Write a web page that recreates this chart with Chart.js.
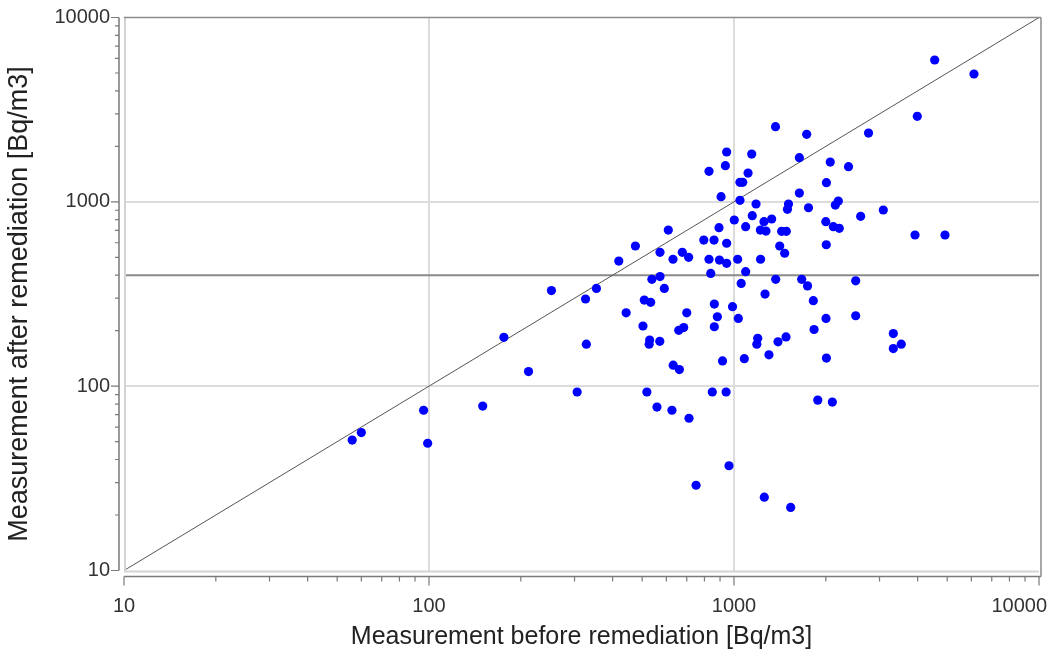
<!DOCTYPE html>
<html>
<head>
<meta charset="utf-8">
<script src="https://cdn.jsdelivr.net/npm/chart.js@4"></script>
<style>
  html, body { margin: 0; padding: 0; background: #ffffff; }
  #wrap { width: 1051px; height: 655px; position: relative; }
</style>
</head>
<body>
<div id="wrap"><canvas id="c" width="1051" height="655"></canvas></div>
<script>
// Measurement before remediation [Bq/m3]
const before = [56, 60, 96, 99, 150, 176, 212, 252, 306, 326, 328, 354, 419, 443, 475, 503, 508, 533, 529, 527,
  538, 572, 572, 571, 591, 609, 631, 632, 662, 659, 684, 677, 710, 700, 712, 751, 518, 559, 626, 796,
  828, 828, 839, 860, 862, 882, 862, 849, 893, 896, 907, 917, 946, 937, 946, 946, 942, 963, 989, 1002,
  1028, 1033, 1046, 1068, 1046, 1056, 1081, 1092, 1092, 1112, 1143, 1148, 1181, 1196, 1188, 1220, 1222, 1254, 1273, 1264,
  1257, 1302, 1329, 1368, 1370, 1394, 1412, 1466, 1433, 1484, 1481, 1509, 1497, 1534, 1638, 1638, 1667, 1731, 1742, 1755,
  1820, 1830, 1882, 2003, 2000, 2007, 2009, 2009, 2068, 2101, 2117, 2214, 2198, 2149, 2374, 2506, 2506, 2602, 2761, 3087,
  3329, 3329, 3535, 3922, 4918, 3990, 4550, 6121];
// Measurement after remediation [Bq/m3]
const after = [51, 56, 74, 49, 78, 184, 120, 330, 93, 297, 169, 339, 477, 250, 576, 212, 293, 285, 178, 169,
  380, 393, 532, 175, 339, 703, 488, 130, 123, 201, 208, 532, 500, 250, 67, 29, 93, 77, 74, 620,
  1464, 488, 409, 620, 279, 238, 210, 93, 724, 483, 1066, 137, 1863, 1570, 596, 464, 93, 37, 270, 797,
  488, 233, 1276, 1276, 1019, 361, 141, 733, 418, 1433, 1817, 841, 973, 182, 169, 703, 488, 780, 694, 316,
  25, 148, 807, 2556, 380, 174, 576, 526, 692, 692, 185, 973, 911, 22, 1735, 1116, 380, 2324, 350, 929,
  291, 203, 84, 233, 780, 585, 142, 1270, 1644, 82, 733, 718, 1010, 960, 1551, 373, 241, 834, 2362, 903,
  193, 160, 169, 661, 661, 2910, 5882, 4936];

const axisRange = [10, 10000];
const tickLabels = [10, 100, 1000, 10000];
const actionLevel = 400;
const xTitle = 'Measurement before remediation [Bq/m3]';
const yTitle = 'Measurement after remediation [Bq/m3]';

const points = before.map((v, i) => ({ x: v, y: after[i] }));
const FONT = '"Liberation Sans", Arial, sans-serif';
const TICK_COLOR = '#333333';

function majorTicks(scale) {
  scale.ticks = tickLabels.map(v => ({ value: v }));
}
function gridColor(ctx) {
  const v = ctx.tick && ctx.tick.value;
  return (v === 100 || v === 1000) ? '#dcdcdc' : 'rgba(0,0,0,0)';
}
function noPad(s) {
  s.paddingLeft = 0; s.paddingRight = 0; s.paddingTop = 0; s.paddingBottom = 0;
}

const framePlugin = {
  id: 'frame',
  afterDraw(chart) {
    const { ctx, chartArea: a, scales: { x, y } } = chart;
    ctx.save();
    // frame (bevel-like)
    ctx.lineWidth = 2;
    ctx.strokeStyle = '#d4d4d4';
    ctx.beginPath();
    ctx.moveTo(a.left + 1, a.top); ctx.lineTo(a.left + 1, a.bottom + 1);
    ctx.moveTo(a.left, a.bottom + 1); ctx.lineTo(a.right, a.bottom + 1);
    ctx.stroke();
    ctx.strokeStyle = '#8c8c8c';
    ctx.lineWidth = 1.5;
    ctx.beginPath();
    ctx.moveTo(a.left, a.top); ctx.lineTo(a.right + 2, a.top);
    ctx.moveTo(a.right + 2, a.top); ctx.lineTo(a.right + 2, a.bottom + 6);
    ctx.stroke();
    // axes lines + ticks
    ctx.strokeStyle = '#7a7a7a';
    ctx.lineWidth = 1.5;
    const axY = a.bottom + 6;
    const axX = a.left - 5;
    ctx.beginPath();
    ctx.moveTo(a.left, axY); ctx.lineTo(a.right + 2, axY);
    ctx.moveTo(axX, a.top); ctx.lineTo(axX, a.bottom);
    ctx.stroke();
    ctx.lineWidth = 1.2;
    ctx.beginPath();
    for (let d = 10; d <= 10000; d *= 10) {
      for (let m = 1; m <= 9; m++) {
        const v = d * m;
        if (v > 10000) break;
        const major = m === 1;
        const px = x.getPixelForValue(v);
        ctx.moveTo(px, axY); ctx.lineTo(px, axY + (major ? 9 : 5));
        const py = y.getPixelForValue(v);
        ctx.moveTo(axX, py); ctx.lineTo(axX - (major ? 8 : 4), py);
      }
    }
    ctx.stroke();

    // last x tick label: kept inside the canvas, right-aligned like the reference
    const last = tickLabels[tickLabels.length - 1];
    ctx.fillStyle = TICK_COLOR;
    ctx.font = '20px ' + FONT;
    ctx.textAlign = 'right';
    ctx.textBaseline = 'middle';
    ctx.fillText(String(last), x.getPixelForValue(last) + 8, 606);

    // axis titles
    ctx.fillStyle = '#222222';
    ctx.textAlign = 'center';
    ctx.textBaseline = 'middle';
    ctx.font = '25px ' + FONT;
    ctx.fillText(xTitle, (a.left + a.right) / 2, 637);

    ctx.font = '27px ' + FONT;
    ctx.save();
    ctx.translate(20, (a.top + a.bottom) / 2 + 10);
    ctx.rotate(-Math.PI / 2);
    ctx.fillText(yTitle, 0, 0);
    ctx.restore();

    ctx.restore();
  }
};

new Chart(document.getElementById('c'), {
  type: 'scatter',
  data: {
    datasets: [
      {
        label: 'Measurements',
        data: points,
        backgroundColor: '#0000ff',
        borderWidth: 0,
        pointRadius: 4.6,
        pointHoverRadius: 4.6
      },
      {
        type: 'line',
        label: 'y = x',
        data: [{ x: axisRange[0], y: axisRange[0] }, { x: axisRange[1], y: axisRange[1] }],
        borderColor: '#555555',
        borderWidth: 1,
        pointRadius: 0,
        fill: false
      },
      {
        type: 'line',
        label: 'Reference level',
        data: [{ x: axisRange[0], y: actionLevel }, { x: axisRange[1], y: actionLevel }],
        borderColor: '#8a8a8a',
        borderWidth: 2,
        pointRadius: 0,
        fill: false
      }
    ]
  },
  options: {
    responsive: false,
    animation: false,
    devicePixelRatio: 1,
    layout: { padding: { left: 0, top: 17.5, right: 12, bottom: 0 } },
    plugins: { legend: { display: false }, tooltip: { enabled: false } },
    scales: {
      x: {
        type: 'logarithmic',
        min: axisRange[0], max: axisRange[1],
        afterBuildTicks: majorTicks,
        afterFit(s) { s.height = 84.5; noPad(s); },
        border: { display: false },
        grid: { color: gridColor, lineWidth: 2, drawTicks: false },
        ticks: {
          autoSkip: false, maxRotation: 0, padding: 24,
          color: (c) => (c.tick && c.tick.value === tickLabels[tickLabels.length - 1]) ? 'rgba(0,0,0,0)' : TICK_COLOR,
          font: { family: FONT, size: 20 },
          callback: v => String(v)
        },
        title: { display: false, text: xTitle }
      },
      y: {
        type: 'logarithmic',
        min: axisRange[0], max: axisRange[1],
        afterBuildTicks: majorTicks,
        afterFit(s) { s.width = 124; noPad(s); },
        border: { display: false },
        grid: { color: gridColor, lineWidth: 2, drawTicks: false },
        ticks: {
          autoSkip: false, padding: 14,
          color: TICK_COLOR, font: { family: FONT, size: 20 },
          callback: v => String(v)
        },
        title: { display: false, text: yTitle }
      }
    }
  },
  plugins: [framePlugin]
});
</script>
</body>
</html>
